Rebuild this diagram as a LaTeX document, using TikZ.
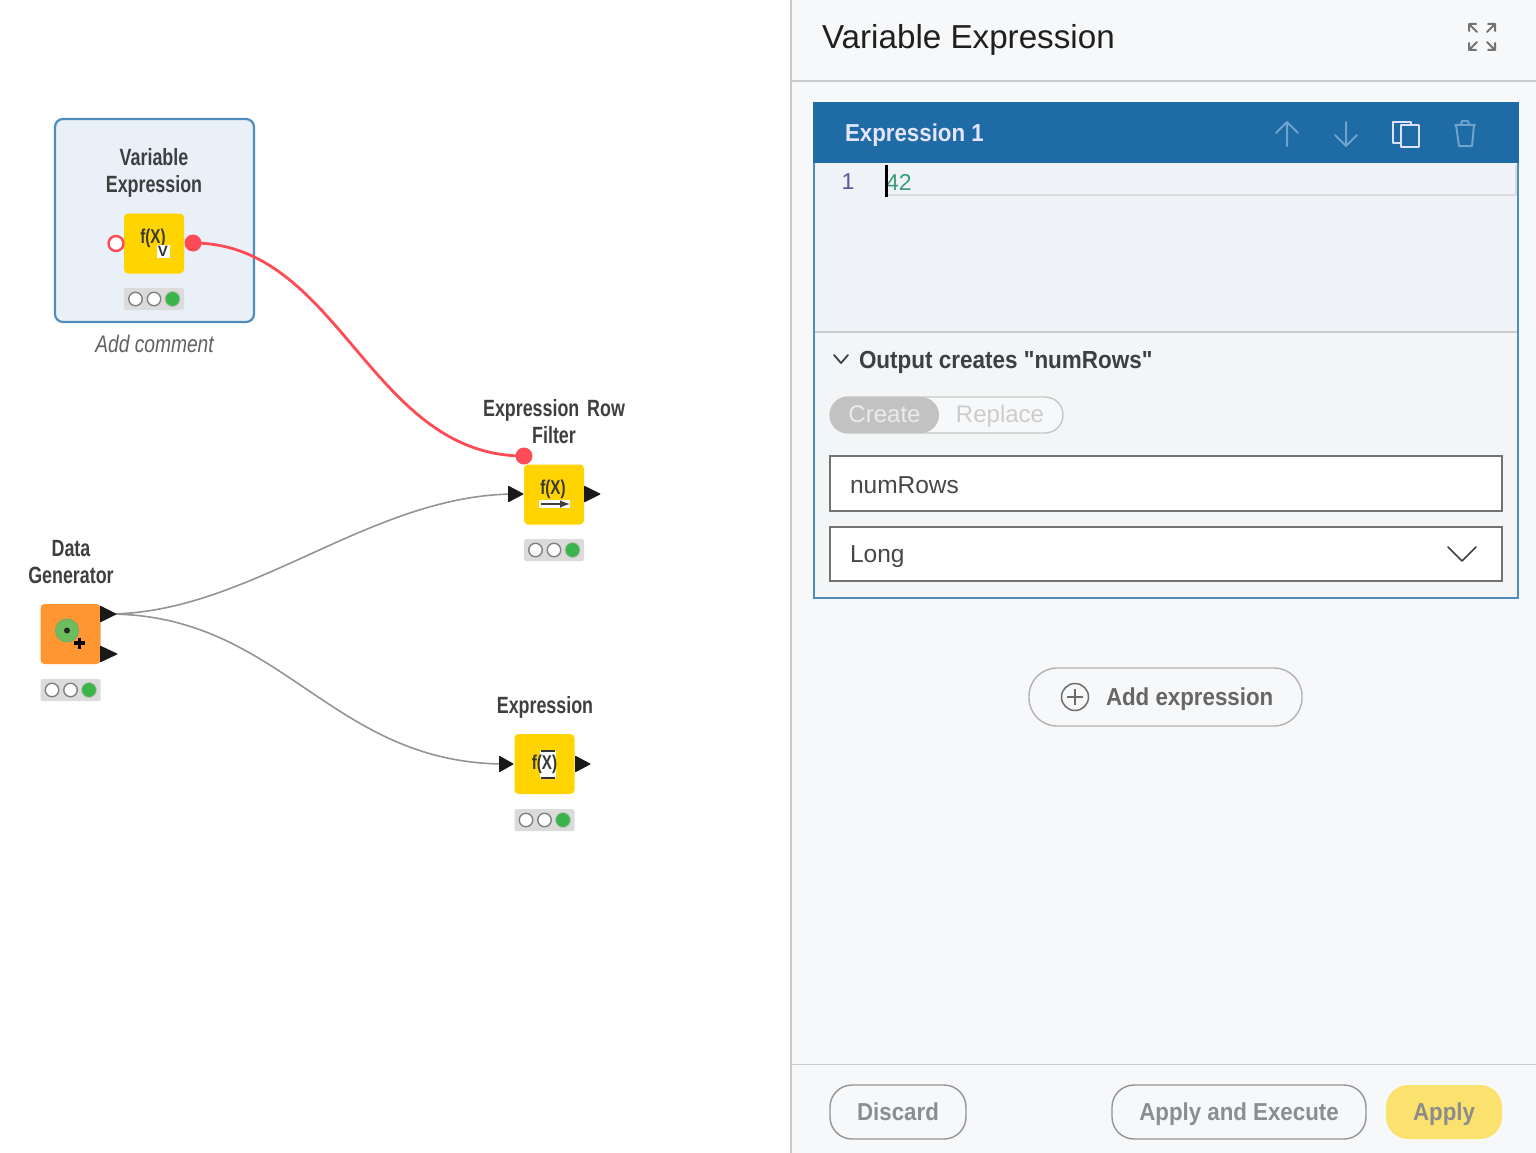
\documentclass[tikz,border=0pt]{standalone}
\usepackage{fontspec}
\setmainfont{Liberation Sans}
\newfontfamily\plainfont{Liberation Sans}
\newfontfamily\condbold[FakeStretch=0.76]{Liberation Sans Bold}
\newfontfamily\conditalic[FakeStretch=0.8]{Liberation Sans Italic}
\newfontfamily\medbold[FakeStretch=0.91]{Liberation Sans Bold}
\usetikzlibrary{calc}
\definecolor{panelbg}{HTML}{F7F8FA}
\definecolor{rule}{HTML}{C9CBCD}
\definecolor{blueh}{HTML}{1E6BA6}
\definecolor{bluel}{HTML}{4F8DBE}
\definecolor{editbg}{HTML}{EFF3F8}
\definecolor{nodebg}{HTML}{E9F0F7}
\definecolor{lowbg}{HTML}{F4F5F7}
\definecolor{nodey}{HTML}{FFD400}
\definecolor{nodeo}{HTML}{FF9632}
\definecolor{redp}{HTML}{FF4B55}
\definecolor{txt}{HTML}{3E3F40}
\definecolor{btn}{HTML}{8C8D8E}
\definecolor{iconb}{HTML}{6FA3CC}
\definecolor{lampg}{HTML}{3BB54A}
\definecolor{applyy}{HTML}{FBE26E}
\definecolor{codeg}{HTML}{3A9E76}
\definecolor{discg}{HTML}{6CBE5C}
\tikzset{
 x=1pt,y=-1pt,
 every node/.style={inner sep=0pt,outer sep=0pt},
 nodelabel/.style={font=\condbold\fontsize{23.5}{26}\selectfont,text=txt,align=center,text width=170pt},
 kbox/.style={minimum width=60pt,minimum height=60pt,rounded corners=4pt},
 lightbg/.style={fill=black!14,minimum width=60pt,minimum height=22pt,rounded corners=1.5pt},
 lampoff/.style={circle,draw=black!50,line width=1.4pt,fill=white,minimum size=13.5pt},
 lampon/.style={circle,draw=black!25,line width=0.8pt,fill=lampg,minimum size=15pt},
 wire/.style={draw=black!42,line width=1.6pt},
 redwire/.style={draw=redp,line width=2.8pt},
 btnbox/.style={draw=black!42,line width=1.4pt,rounded corners=22pt,fill=panelbg},
 btntext/.style={font=\medbold\fontsize{24.5}{26}\selectfont,text=btn},
 field/.style={draw=black!55,line width=1.1pt,fill=white},
 fieldtext/.style={font=\fontsize{24.5}{26}\selectfont,text=black!72,anchor=west},
 headicon/.style={draw=iconb,line width=2pt,line cap=round,line join=round},
 glyph/.style={font=\condbold\fontsize{20}{20}\selectfont,text=black!78},
}
\newcommand{\lights}[3]{% centre x, centre y, name
 \node[lightbg] (#3) at (#1,#2) {};
 \node[lampoff] (#3a) at ($(#3.center)+(-18.5,0)$) {};
 \node[lampoff] (#3b) at (#3.center) {};
 \node[lampon] (#3c) at ($(#3.center)+(18.5,0)$) {};
}
\newcommand{\porttri}[4]{% name, left x, y, length
 \fill[black!90,rounded corners=0.8pt] (#2,#3-8.5) -- (#2+#4,#3) -- (#2,#3+8.5) -- cycle;
 \coordinate (#1) at (#2+#4/2,#3);
}
\begin{document}
\begin{tikzpicture}
\useasboundingbox (0,0) rectangle (1536,1153);
\fill[white] (0,0) rectangle (1536,1153);
% right panel
\fill[panelbg] (791,0) rectangle (1536,1153);
\draw[rule,line width=1.6pt] (791,0) -- (791,1153);
\draw[rule,line width=1.6pt] (791,81) -- (1536,81);
\draw[rule,line width=1.6pt] (791,1064.5) -- (1536,1064.5);
\node[anchor=west,font=\fontsize{33.2}{36}\selectfont,text=black!88] (paneltitle) at (822,40) {Variable Expression};
% expand icon
\begin{scope}[draw=black!55,line width=2pt,line cap=round]
 \draw (1469,24) -- (1477,32) (1469,24) -- (1476,24) (1469,24) -- (1469,31);
 \draw (1495,24) -- (1487,32) (1495,24) -- (1488,24) (1495,24) -- (1495,31);
 \draw (1469,50) -- (1477,42) (1469,50) -- (1476,50) (1469,50) -- (1469,43);
 \draw (1495,50) -- (1487,42) (1495,50) -- (1488,50) (1495,50) -- (1495,43);
\end{scope}
% expression card
\fill[lowbg] (814,332) rectangle (1518,598);
\fill[editbg] (814,163) rectangle (1518,332);
\draw[rule,line width=1.4pt] (814,332) -- (1518,332);
\fill[blueh] (813,102) rectangle (1519,163);
\draw[bluel,line width=1.8pt] (814,163) -- (814,598) -- (1518,598) -- (1518,163);
\node[anchor=west,font=\medbold\fontsize{24.5}{26}\selectfont,text=white!90!blue] (exprtitle) at (845,135) {Expression 1};
\draw[headicon] (1287,146) -- (1287,122) (1276,133) -- (1287,122) -- (1298,133);
\draw[headicon] (1346,122) -- (1346,146) (1335,135) -- (1346,146) -- (1357,135);
\draw[white!88!blue,line width=2pt,line join=round] (1401,143) -- (1393,143) -- (1393,122) -- (1411,122) -- (1411,125) (1401,125) rectangle (1419,147);
\draw[headicon] (1455,125) -- (1475,125) (1461,124) -- (1462,121) -- (1468,121) -- (1469,124) (1456,125) -- (1459,146) -- (1472,146) -- (1474,125);
% editor
\draw[black!14,line width=1.5pt] (888,195) -- (1516,195) -- (1516,165);
\node[font=\fontsize{23}{24}\selectfont,text=blue!35!black!65] (lineno) at (848,182) {1};
\node[anchor=west,font=\fontsize{23}{24}\selectfont,text=codeg] (code) at (886,182) {42};
\draw[black,line width=2.8pt] (886.5,165) -- (886.5,197);
% output
\draw[txt,line width=1.8pt,line cap=round,line join=round] (834,355) -- (841,363) -- (848,355);
\node[anchor=west,font=\medbold\fontsize{24.7}{26}\selectfont,text=txt] (outlabel) at (859,362) {Output creates "numRows"};
\draw[black!22,line width=1.4pt,fill=panelbg,rounded corners=18pt] (830,397) rectangle (1063,433);
\fill[black!24,rounded corners=18pt] (830,397) rectangle (939,433);
\node[font=\fontsize{24}{26}\selectfont,text=white!92!black] (create) at (884.5,414) {Create};
\node[font=\fontsize{24}{26}\selectfont,text=black!20] (replace) at (1000,416) {Replace};
\draw[field] (830,456) rectangle (1502,511);
\node[fieldtext] (nameval) at (850,485) {numRows};
\draw[field] (830,527) rectangle (1502,581);
\node[fieldtext] (typeval) at (850,557) {Long};
\draw[black!75,line width=1.5pt,line cap=round,line join=round] (1448,547) -- (1462,561) -- (1476,547);
% add expression
\node[btnbox,draw=black!30,rounded corners=28pt,minimum width=273pt,minimum height=58pt] (addbtn) at (1165.5,697) {};
\node[circle,draw=black!58,line width=1.5pt,minimum size=27pt] (plus) at (1075,697) {};
\draw[black!58,line width=1.5pt] (1067,697) -- (1083,697) (1075,689) -- (1075,705);
\node[anchor=west,font=\medbold\fontsize{24.5}{26}\selectfont,text=black!60] (addtext) at (1106,699) {Add expression};
% footer
\node[btnbox,minimum width=136pt,minimum height=54pt] (discard) at (898,1112) {};
\node[btntext] at (discard) {Discard};
\node[btnbox,minimum width=254pt,minimum height=54pt] (applyexec) at (1239,1112) {};
\node[btntext] at (1239,1114) {Apply and Execute};
\node[fill=applyy,rounded corners=22pt,minimum width=116pt,minimum height=54pt] (apply) at (1444,1112) {};
\node[btntext,text=black!45] at (1444,1114) {Apply};

% Variable Expression frame
\draw[bluel,fill=nodebg,line width=2.2pt,rounded corners=8pt] (55,119) rectangle (254,322);

% connectors
\coordinate (veout) at (193,243);
\coordinate (erfvar) at (524,456);
\coordinate (dgtip) at (108,614);
\coordinate (erfin) at (516,494);
\coordinate (exin) at (506,764);
\draw[wire] (dgtip) .. controls (250,614) and (370,494) .. (erfin);
\draw[wire] (dgtip) .. controls (283,614) and (329,764) .. (exin);
\draw[redwire] (veout) .. controls (340,243) and (370,456) .. (erfvar);

% Variable Expression
\node[nodelabel] (velabel) at (154,173) {Variable\\[1pt]Expression};
\node[kbox,fill=nodey] (ve) at (154,243.5) {};
\node[glyph] (vefx) at (153,238) {f(X)};
\node[fill=white,minimum width=13pt,minimum height=13pt,font=\bfseries\fontsize{15}{15}\selectfont,text=black!80] (vev) at (163,251.5) {V};
\lights{154}{299}{vel}
\node[font=\conditalic\fontsize{24}{26}\selectfont,text=black!62] (vecomment) at (154.5,344) {Add comment};
\node[circle,draw=redp,line width=2.4pt,fill=white,minimum size=15pt] (vein) at (116,243.5) {};

% Expression Row Filter
\node[nodelabel] (erflabel) at (554,422) {Expression Row\\[1pt]Filter};
\node[kbox,fill=nodey] (erf) at (554,494.5) {};
\node[glyph] (erffx) at (553,489) {f(X)};
\draw[white,line width=8pt] (539,504) -- (570,504);
\draw[black!75,line width=2.4pt,-latex] (541,504) -- (570,504);
\porttri{erfinport}{508}{494}{16}
\porttri{erfout}{584}{494}{17}
\lights{554}{550}{erfl}

% Data Generator
\node[nodelabel] (dglabel) at (71,562) {Data\\[1pt]Generator};
\node[kbox,fill=nodeo] (dg) at (70.5,634) {};
\node[circle,fill=discg,draw=green!40!black!55,line width=1pt,minimum size=23pt] (dgdisc) at (67,630.5) {};
\node[circle,fill=black!85,minimum size=6pt] (dgdot) at (67,630.5) {};
\draw[black,line width=3.4pt] (74,643) -- (85,643) (79.5,637.5) -- (79.5,648.5);
\porttri{dgout}{100}{614}{17}
\porttri{dgouttwo}{100}{654}{18}
\lights{70.5}{690}{dgl}

% Expression
\node[nodelabel] (exlabel) at (545,707) {Expression};
\node[kbox,fill=nodey] (ex) at (544.5,764) {};
\fill[white,rounded corners=2pt] (540,750) rectangle (556,779);
\draw[black!80,line width=1.6pt] (541,751) -- (555,751) (541,778) -- (555,778);
\node[glyph] (exf) at (544.5,764) {f(X)};
\porttri{exinport}{499}{764}{15}
\porttri{exout}{575}{764}{16}
\lights{544.5}{820}{exl}

\node[circle,fill=redp,minimum size=17pt] (veoutdot) at (veout) {};
\node[circle,fill=redp,minimum size=17pt] (erfvardot) at (erfvar) {};
\end{tikzpicture}
\end{document}
